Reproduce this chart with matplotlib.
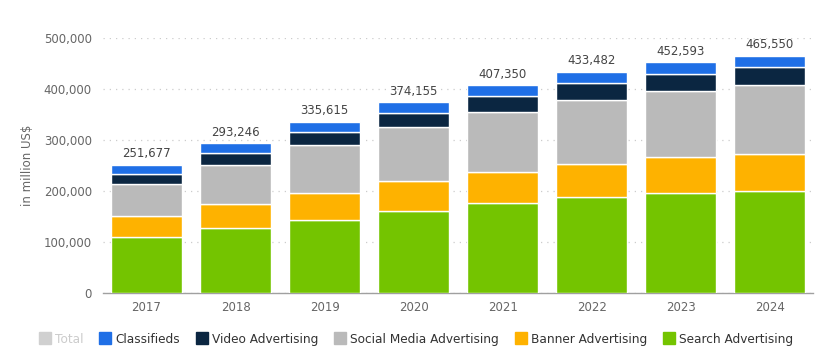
import matplotlib.pyplot as plt
from matplotlib.lines import Line2D
from matplotlib.ticker import FuncFormatter
import numpy as np

years = ["2017", "2018", "2019", "2020", "2021", "2022", "2023", "2024"]
search = [109400, 126300, 143900, 161500, 177100, 188800, 196600, 200500]
banner = [42300, 47500, 52700, 57300, 60500, 64500, 69000, 72900]
social = [61200, 77500, 93800, 106700, 117200, 125000, 130200, 134200]
video = [20800, 23400, 25400, 27400, 30600, 33200, 33900, 35100]
totals = [251677, 293246, 335615, 374155, 407350, 433482, 452593, 465550]
# classifieds = whatever is left up to the published total
classifieds = [t - s - b - so - v for t, s, b, so, v in zip(totals, search, banner, social, video)]

series = [
    ("Search Advertising", search, "#74c400"),
    ("Banner Advertising", banner, "#feb200"),
    ("Social Media Advertising", social, "#bababa"),
    ("Video Advertising", video, "#0b2641"),
    ("Classifieds", classifieds, "#1f6fe6"),
]

plt.rcParams['font.family'] = ['DejaVu Sans']

fig = plt.figure(figsize=(8.3, 3.62), dpi=100)
ax = fig.add_axes([0.124, 0.191, 0.856, 0.704])

x = np.arange(len(years))
bottom = np.zeros(len(years))
for name, vals, col in series:
    ax.bar(x, vals, width=0.8, bottom=bottom, color=col, edgecolor="white",
           linewidth=1.0, zorder=3)
    bottom += np.array(vals)

for xi, t in zip(x, totals):
    ax.text(xi, t + 9000, f"{t:,}", ha="center", va="bottom", fontsize=8.5,
            color="#444444", zorder=4)

ax.set_xlim(-0.49, 7.49)
ax.set_ylim(0, 500000)
ax.set_yticks(np.arange(0, 500001, 100000))
ax.yaxis.set_major_formatter(FuncFormatter(lambda v, p: f"{int(v):,}"))
ax.set_xticks(x)
ax.set_xticklabels(years)

ax.grid(axis="y", linestyle=(0, (1, 4)), color="#cccccc", linewidth=0.9, zorder=0)
for s in ["top", "right", "left"]:
    ax.spines[s].set_visible(False)
ax.spines["bottom"].set_color("#a0a0a0")
ax.spines["bottom"].set_linewidth(1.0)
ax.tick_params(axis="both", length=0, labelsize=8.5, colors="#666666")
ax.tick_params(axis="y", pad=8)
ax.tick_params(axis="x", pad=6)
ax.set_ylabel("in million US$", fontsize=8.5, color="#666666", labelpad=7)

handles = [Line2D([], [], marker="s", linestyle="", markersize=9,
                  markerfacecolor="#d0d0d0", markeredgecolor="#d0d0d0")]
labels = ["Total"]
for name, vals, col in reversed(series):
    handles.append(Line2D([], [], marker="s", linestyle="", markersize=9,
                          markerfacecolor=col, markeredgecolor=col))
    labels.append(name)

leg = fig.legend(handles, labels, loc="center", bbox_to_anchor=(0.502, 0.063),
                 ncol=6, frameon=False, fontsize=8.7, handlelength=0.8,
                 handletextpad=0.4, columnspacing=1.45)
for i, txt in enumerate(leg.get_texts()):
    txt.set_color("#cccccc" if i == 0 else "#333333")

fig.savefig("out.png", dpi=100)
